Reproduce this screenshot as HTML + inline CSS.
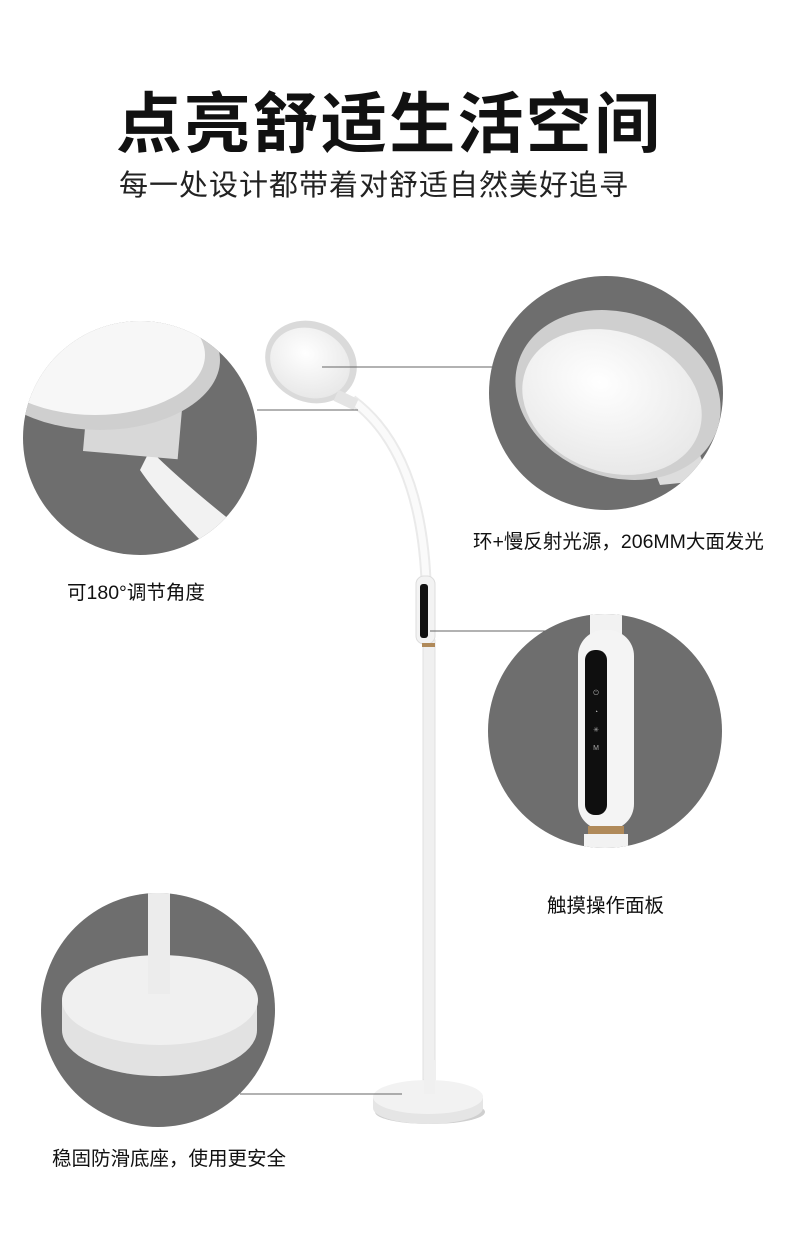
<!DOCTYPE html>
<html><head><meta charset="utf-8"><style>
body{margin:0;background:#fff;width:790px;height:1255px;overflow:hidden;position:relative;font-family:"Liberation Sans","Noto Sans CJK SC",sans-serif;color:#111}
.t{position:absolute;white-space:nowrap}
</style></head><body>
<div class="t" style="left:116px;top:71px;font-size:66px;font-weight:bold;letter-spacing:2.3px">点亮舒适生活空间</div>
<div class="t" style="left:119px;top:162px;font-size:29px;letter-spacing:1px;color:#222">每一处设计都带着对舒适自然美好追寻</div>
<svg width="790" height="1255" style="position:absolute;left:0;top:0">
<defs>
<radialGradient id="lg" cx="0.4" cy="0.4" r="0.7"><stop offset="0" stop-color="#fff"/><stop offset="1" stop-color="#e6e6e6"/></radialGradient>
<clipPath id="c1"><circle cx="140" cy="438" r="117"/></clipPath>
<clipPath id="c2"><circle cx="606" cy="393" r="117"/></clipPath>
<clipPath id="c3"><circle cx="605" cy="731" r="117"/></clipPath>
<clipPath id="c4"><circle cx="158" cy="1010" r="117"/></clipPath>
</defs>
<circle cx="140" cy="438" r="117" fill="#6e6e6e"/>
<g clip-path="url(#c1)">
<path d="M150 450 Q180 480 230 520 L210 550 Q160 500 140 470Z" fill="#f2f2f2"/>
<rect x="85" y="405" width="95" height="50" fill="#d8d8d8" transform="rotate(5 130 430)"/>
<ellipse cx="100" cy="360" rx="120" ry="70" fill="#cfcfcf"/>
<ellipse cx="95" cy="355" rx="110" ry="60" fill="#f7f7f7"/>
</g>
<circle cx="606" cy="393" r="117" fill="#6e6e6e"/>
<g clip-path="url(#c2)">
<path d="M650 460 L700 455 L710 480 L660 485Z" fill="#ddd"/>
<ellipse cx="618" cy="395" rx="105" ry="82" transform="rotate(20 618 395)" fill="#cfcfcf"/>
<ellipse cx="612" cy="402" rx="92" ry="70" transform="rotate(20 612 402)" fill="url(#lg)"/>
</g>
<circle cx="605" cy="731" r="117" fill="#6e6e6e"/>
<g clip-path="url(#c3)">
<rect x="590" y="600" width="32" height="40" fill="#f2f2f2"/>
<rect x="578" y="630" width="56" height="200" rx="26" fill="#f4f4f4"/>
<rect x="585" y="650" width="22" height="165" rx="10" fill="#0f0f0f"/>
<rect x="588" y="826" width="36" height="8" fill="#b08a5a"/>
<rect x="584" y="834" width="44" height="20" fill="#f2f2f2"/>
<text x="596" y="695" font-size="7" fill="#aaa" text-anchor="middle">⏻</text>
<text x="596" y="714" font-size="7" fill="#aaa" text-anchor="middle">◔</text>
<text x="596" y="732" font-size="7" fill="#aaa" text-anchor="middle">✳</text>
<text x="596" y="750" font-size="7" fill="#aaa" text-anchor="middle">M</text>
</g>
<circle cx="158" cy="1010" r="117" fill="#6e6e6e"/>
<g clip-path="url(#c4)">
<rect x="148" y="890" width="22" height="110" fill="#e8e8e8"/>
<path d="M62 1000 L62 1030 A95 45 0 0 0 257 1030 L257 1000Z" fill="#e2e2e2"/>
<ellipse cx="160" cy="1000" rx="98" ry="45" fill="#f0f0f0"/>
<rect x="148" y="890" width="22" height="104" fill="#ececec"/>
</g>
<path d="M352 400 Q420 450 426 580" fill="none" stroke="#eaeaea" stroke-width="11"/>
<path d="M352 400 Q420 450 426 580" fill="none" stroke="#fafafa" stroke-width="7"/>
<ellipse cx="311" cy="362" rx="47" ry="40" transform="rotate(25 311 362)" fill="#dadada"/>
<ellipse cx="310" cy="363" rx="41" ry="34" transform="rotate(25 310 363)" fill="url(#lg)"/>
<rect x="335" y="394" width="22" height="12" fill="#e4e4e4" transform="rotate(25 346 400)"/>
<rect x="423" y="640" width="12" height="440" fill="#f0f0f0" stroke="#e0e0e0"/>
<rect x="416" y="576" width="19" height="68" rx="8" fill="#f3f3f3" stroke="#ddd"/>
<rect x="420" y="584" width="8" height="54" rx="3" fill="#111"/>
<rect x="422" y="643" width="13" height="4" fill="#b08a5a"/>
<ellipse cx="430" cy="1112" rx="55" ry="12" fill="#cfcfcf"/>
<path d="M373 1098 L373 1108 A55 16 0 0 0 483 1108 L483 1098Z" fill="#e5e5e5"/>
<ellipse cx="428" cy="1097" rx="55" ry="17" fill="#f2f2f2"/>
<rect x="424" y="1060" width="11" height="34" fill="#f0f0f0"/>
<g stroke="#666" stroke-width="1">
<line x1="257" y1="410" x2="358" y2="410"/>
<line x1="322" y1="367" x2="492" y2="367"/>
<line x1="430" y1="631" x2="545" y2="631"/>
<line x1="240" y1="1094" x2="402" y2="1094"/>
</g>
</svg>
<div class="t" style="left:67px;top:576px;font-size:19.5px">可180°调节角度</div>
<div class="t" style="left:473px;top:525px;font-size:19.5px">环+慢反射光源，206MM大面发光</div>
<div class="t" style="left:547px;top:889px;font-size:19.5px">触摸操作面板</div>
<div class="t" style="left:52px;top:1142px;font-size:19.5px">稳固防滑底座，使用更安全</div>
</body></html>
